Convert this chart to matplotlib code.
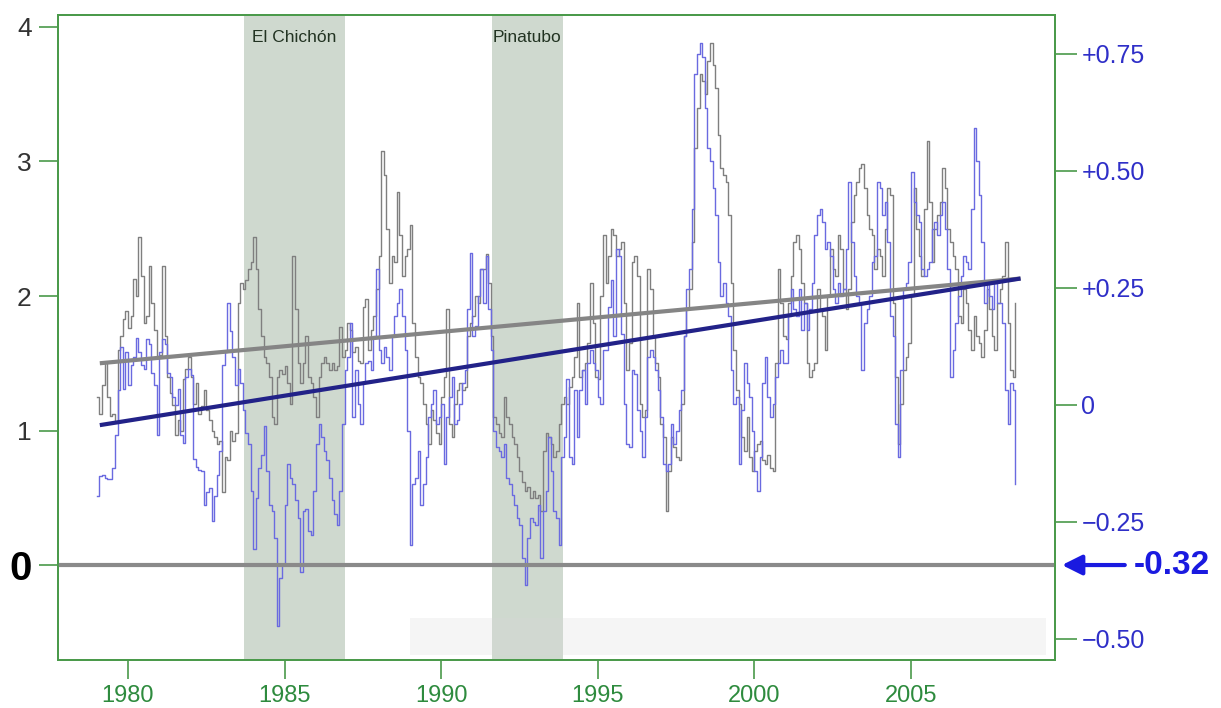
import matplotlib
matplotlib.use("Agg")
import numpy as np
import matplotlib.pyplot as plt
from matplotlib.patches import Rectangle

# Monthly series starting January 1979 (left-axis units)
start_year = 1979
blue_series = [
    0.51, 0.66, 0.67, 0.65, 0.64, 0.64, 0.72, 0.97, 1.30, 1.62, 1.31, 1.58,
    1.34, 1.49, 1.55, 1.69, 1.58, 1.49, 1.46, 1.68, 1.64, 1.43, 1.34, 0.97,
    1.58, 1.68, 1.64, 1.43, 1.40, 1.25, 1.19, 1.31, 0.97, 0.91, 1.40, 1.46,
    1.41, 0.79, 0.73, 0.71, 0.70, 0.45, 0.54, 0.57, 0.33, 0.51, 0.67, 0.85,
    1.49, 1.58, 1.95, 1.74, 1.55, 1.34, 1.46, 1.35, 1.15, 0.98, 0.90, 0.55,
    0.12, 0.50, 0.72, 0.82, 1.03, 0.70, 0.45, 0.40, 0.20, -0.45, -0.10, 0.00,
    0.45, 0.75, 0.65, 0.60, 0.48, 0.35, -0.05, 0.40, 0.42, 0.25, 0.22, 0.55,
    0.90, 1.05, 0.95, 0.85, 0.78, 0.65, 0.48, 0.38, 0.30, 0.55, 1.05, 1.45,
    1.55, 1.80, 1.10, 1.45, 1.20, 1.05, 1.35, 1.50, 1.52, 1.45, 1.70, 2.20,
    1.60, 1.50, 1.62, 1.55, 1.45, 1.70, 1.85, 1.95, 2.05, 1.85, 1.60, 1.00,
    0.15, 0.60, 0.65, 0.85, 0.45, 0.60, 0.80, 1.10, 1.20, 1.30, 1.05, 1.10,
    1.20, 0.75, 1.10, 1.25, 1.40, 1.05, 1.08, 1.20, 1.35, 1.45, 1.90, 2.32,
    1.70, 1.78, 2.00, 2.20, 1.95, 2.30, 1.90, 1.60, 1.00, 0.88, 0.85, 0.80,
    0.90, 0.65, 0.60, 0.52, 0.45, 0.35, 0.30, 0.05, -0.15, 0.20, 0.35, 0.32,
    0.30, 0.45, 0.05, 0.40, 0.55, 0.95, 0.70, 0.40, 0.35, 0.15, 0.80, 0.95,
    1.38, 0.80, 0.75, 1.30, 0.95, 1.30, 1.45, 1.20, 1.50, 1.60, 1.50, 1.45,
    1.25, 1.20, 1.60, 1.60, 1.92, 2.12, 1.70, 2.35, 2.30, 1.72, 1.20, 0.90,
    0.88, 1.45, 1.42, 1.15, 1.00, 0.80, 1.10, 1.55, 1.60, 1.55, 1.45, 1.30,
    1.10, 0.75, 0.70, 0.75, 1.05, 0.90, 1.00, 1.15, 1.30, 1.70, 2.05, 2.20,
    2.65, 3.65, 3.80, 3.88, 3.78, 3.40, 3.10, 3.00, 2.80, 2.60, 2.25, 2.00,
    2.10, 1.95, 1.85, 1.45, 1.20, 1.25, 0.75, 1.15, 1.50, 1.35, 1.25, 1.00,
    0.70, 0.55, 0.80, 1.35, 1.55, 1.25, 1.10, 1.20, 1.40, 1.50, 1.60, 1.50,
    1.50, 1.85, 2.05, 1.90, 1.85, 2.05, 1.75, 1.95, 1.75, 1.90, 2.10, 2.45,
    2.60, 2.65, 2.55, 2.35, 2.40, 2.30, 2.05, 1.95, 2.10, 2.00, 2.05, 2.35,
    2.85, 2.40, 2.15, 2.00, 1.95, 1.45, 1.80, 1.90, 2.00, 2.25, 2.30, 2.85,
    2.80, 2.60, 2.70, 2.40, 1.85, 1.70, 1.05, 0.80, 1.45, 2.05, 2.10, 2.25,
    2.92, 2.70, 2.60, 2.55, 2.20, 2.15, 2.20, 2.25, 2.50, 2.55, 2.45, 2.60,
    2.70, 2.50, 2.20, 1.40, 1.60, 1.80, 2.00, 2.15, 2.30, 2.25, 2.20, 2.65,
    3.25, 3.00, 2.75, 2.40, 1.95, 2.10, 2.00, 1.90, 2.10, 1.95, 1.95, 1.80,
    1.30, 1.05, 1.35, 1.30, 0.60,
]
gray_series = [
    1.25, 1.12, 1.34, 1.51, 1.25, 1.11, 1.12, 1.06, 1.60, 1.70, 1.83, 1.89,
    1.76, 1.85, 2.13, 2.00, 2.44, 2.15, 1.80, 1.85, 2.22, 1.95, 1.75, 1.55,
    1.56, 2.22, 1.70, 1.40, 1.28, 1.19, 0.97, 1.08, 1.00, 1.38, 1.46, 1.55,
    1.40, 1.20, 1.35, 1.12, 1.18, 1.30, 1.15, 1.08, 1.00, 0.95, 0.90, 0.92,
    0.54, 0.80, 0.78, 1.00, 0.92, 0.98, 1.95, 2.10, 2.05, 2.12, 2.20, 2.25,
    2.44, 2.20, 1.90, 1.70, 1.55, 1.50, 1.40, 1.10, 1.05, 1.40, 1.45, 1.42,
    1.48, 1.35, 1.20, 2.30, 1.90, 1.50, 1.35, 1.50, 1.70, 1.40, 1.35, 1.25,
    1.10, 1.40, 1.50, 1.55, 1.50, 1.45, 1.50, 1.45, 1.48, 1.77, 1.55, 1.60,
    1.80, 1.75, 1.58, 1.62, 1.52, 1.50, 1.92, 1.98, 1.60, 1.75, 1.85, 2.05,
    2.30, 3.08, 2.90, 2.50, 2.10, 2.30, 2.25, 2.77, 2.45, 2.15, 2.30, 2.35,
    2.53, 1.80, 1.55, 1.40, 1.35, 1.20, 1.05, 0.90, 1.15, 1.08, 0.98, 0.90,
    1.25, 1.40, 1.90, 1.05, 0.95, 1.20, 1.30, 1.35, 1.30, 1.32, 1.70, 1.80,
    1.85, 2.00, 1.95, 2.20, 2.20, 2.31, 2.10, 1.70, 1.10, 1.05, 0.98, 0.95,
    1.25, 1.10, 1.05, 0.95, 0.90, 0.80, 0.70, 0.62, 0.55, 0.58, 0.50, 0.55,
    0.50, 0.52, 0.40, 0.85, 0.98, 0.95, 0.90, 0.80, 0.85, 1.05, 1.20, 1.25,
    1.20, 1.32, 1.40, 1.55, 1.95, 1.40, 1.45, 1.50, 1.65, 2.10, 1.80, 1.40,
    1.38, 2.00, 2.45, 2.10, 2.30, 2.50, 2.45, 2.30, 2.35, 2.40, 1.95, 1.45,
    1.65, 2.25, 2.30, 2.15, 1.20, 1.10, 1.15, 2.20, 2.05, 1.70, 1.50, 1.40,
    1.05, 0.95, 0.40, 0.70, 0.95, 0.88, 0.80, 0.78, 1.20, 1.70, 1.90, 2.05,
    2.40, 3.10, 3.40, 3.65, 3.60, 3.50, 3.75, 3.88, 3.72, 3.55, 3.20, 2.95,
    2.90, 2.85, 2.60, 2.10, 1.60, 1.30, 1.20, 0.95, 0.85, 1.10, 0.80, 0.70,
    0.85, 0.90, 0.92, 0.78, 0.75, 0.82, 0.72, 0.70, 1.50, 2.20, 1.95, 1.70,
    1.68, 1.95, 2.15, 2.40, 2.45, 2.35, 2.10, 1.95, 1.50, 1.40, 1.45, 1.50,
    2.05, 1.90, 1.85, 1.60, 2.00, 2.35, 2.20, 2.15, 2.45, 2.35, 2.05, 1.90,
    2.05, 2.55, 2.75, 2.85, 2.95, 2.98, 2.80, 2.60, 2.50, 2.45, 2.20, 2.35,
    2.30, 2.15, 2.50, 2.80, 2.75, 1.95, 1.40, 0.90, 1.20, 1.45, 1.55, 1.65,
    2.00, 2.80, 2.50, 2.30, 2.15, 2.65, 3.15, 2.70, 2.25, 2.50, 2.60, 2.70,
    2.95, 2.80, 2.50, 2.40, 2.30, 2.20, 1.85, 1.80, 2.05, 1.95, 1.75, 1.60,
    1.85, 1.70, 1.65, 1.55, 1.75, 2.05, 1.90, 1.70, 1.60, 1.95, 2.05, 2.15,
    2.40, 1.80, 1.45, 1.40, 1.95,
]

# Linear trends (start / end)
trend_years = [1979.1, 2008.5]
gray_trend = [1.50, 2.13]
blue_trend = [1.04, 2.13]

# Volcanic eruption periods
eruptions = [("El Chichón", 1983.70, 1986.93), ("Pinatubo", 1991.62, 1993.89)]

x_ticks = [1980, 1985, 1990, 1995, 2000, 2005]
left_ticks = [0, 1, 2, 3, 4]
right_ticks = [0.75, 0.50, 0.25, 0.0, -0.25, -0.50]
right_labels = ["+0.75", "+0.50", "+0.25", "0", "\u22120.25", "\u22120.50"]
offset_label = "-0.32"

GREEN = "#4a9a4a"
BLUE_TXT = "#2f2fc8"

plt.rcParams["font.family"] = ["Liberation Sans", "DejaVu Sans"]

fig = plt.figure(figsize=(12.21, 7.08), dpi=100)
ax = fig.add_axes([58 / 1221, 1 - 660 / 708, 997 / 1221, 645 / 708])
ax.set_xlim(1977.765, 2009.60)
ax.set_ylim(-0.706, 4.089)

# shaded eruption periods
for name, x0, x1 in eruptions:
    ax.axvspan(x0, x1, color="#cfd9cf", zorder=0.5, lw=0)
    ax.text((x0 + x1) / 2, 3.92, name, ha="center", va="center",
            fontsize=12.5, color="#223322", zorder=5)

# faint band along the bottom
ax.add_patch(Rectangle((1989.0, -0.67), 20.3, 0.275, facecolor="#d8d8d8",
                       alpha=0.25, lw=0, zorder=0.6))

months = start_year + np.arange(len(blue_series)) / 12.0
ax.plot(months, gray_series, drawstyle="steps-post", color="#7f7f7f",
        lw=1.0, zorder=2)
ax.plot(months, blue_series, drawstyle="steps-post", color="#6a6ae0",
        lw=1.0, zorder=2.1)

ax.plot(trend_years, gray_trend, color="#858585", lw=3.0,
        solid_capstyle="butt", zorder=3)
ax.plot(trend_years, blue_trend, color="#222288", lw=3.0,
        solid_capstyle="butt", zorder=3.1)

ax.axhline(0, color="#8a8a8a", lw=3.0, zorder=3)

for s in ax.spines.values():
    s.set_color(GREEN)
    s.set_linewidth(1.3)

ax.set_xticks(x_ticks)
ax.set_xticklabels([str(v) for v in x_ticks])
ax.tick_params(axis="x", direction="out", length=14, width=1.2, color=GREEN,
               labelcolor="#2e8b3e", labelsize=17, pad=4)
for t in ax.get_xticklabels():
    t.set_family(["Liberation Sans Narrow", "Liberation Sans"])

ax.set_yticks(left_ticks)
ax.set_yticklabels([str(v) for v in left_ticks])
ax.tick_params(axis="y", direction="out", length=14, width=1.2, color=GREEN,
               labelcolor="#333333", labelsize=19, pad=5)
zero_lbl = ax.get_yticklabels()[0]
zero_lbl.set_fontsize(29)
zero_lbl.set_fontweight("bold")
zero_lbl.set_color("black")

ax2 = ax.twinx()
ax2.set_ylim(-0.545, 0.833)
ax2.set_yticks(right_ticks)
ax2.set_yticklabels(right_labels)
ax2.tick_params(axis="y", direction="out", length=16, width=1.2, color=GREEN,
                labelcolor=BLUE_TXT, labelsize=18, pad=3)
for s in ax2.spines.values():
    s.set_color(GREEN)
    s.set_linewidth(1.3)

# offset marker on the zero line
ax.annotate("", xy=(1.007, 0), xycoords=("axes fraction", "data"),
            xytext=(1.070, 0), textcoords=("axes fraction", "data"),
            arrowprops=dict(arrowstyle="-|>", color="#1a1ae0", lw=3,
                            mutation_scale=30, shrinkA=0, shrinkB=0),
            annotation_clip=False)
ax.text(1.079, 0, offset_label, transform=ax.get_yaxis_transform(),
        ha="left", va="center", fontsize=24, fontweight="bold",
        color="#1a1ae0", clip_on=False)

fig.savefig("out.png", dpi=100, facecolor="white")
